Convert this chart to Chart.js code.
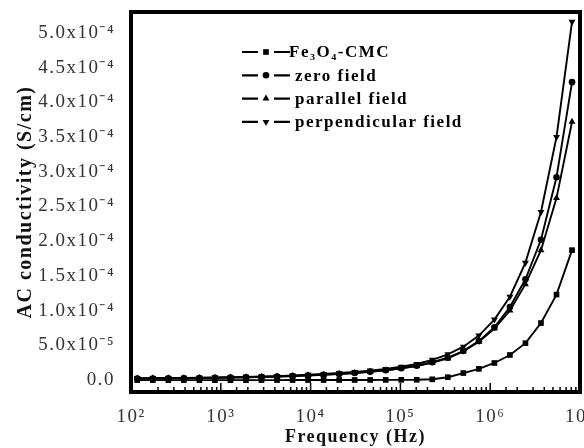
<!DOCTYPE html>
<html>
<head>
<meta charset="utf-8">
<script src="https://cdn.jsdelivr.net/npm/chart.js@4.4.0/dist/chart.umd.min.js"></script>
<style>
    html, body { margin: 0; padding: 0; background: #fff; }
    #wrap { width: 584px; height: 448px; }
</style>
</head>
<body>
<div id="wrap"><canvas id="acChart" width="584" height="448"></canvas></div>
<script>
// frequency points (Hz)
const frequency = [117.5, 175, 260.5, 387.9, 577.6, 860.1, 1281, 1907, 2839, 4228,
    6295, 9374, 13960, 20780, 30950, 46080, 68620, 102200, 152100, 226500,
    337300, 502200, 747800, 1114000, 1658000, 2469000, 3677000, 5475000, 8152000];

// AC conductivity (S/cm)
const fe3o4Cmc = [-2e-7, -2e-7, -2e-7, -2e-7, -2e-7, -2e-7, -2e-7, -2e-7, -1.5e-7, -1.5e-7,
    -1e-7, -1e-7, -0.5e-7, 0, 0, 0.5e-7, 1e-7, 2e-7, 3e-7, 1.0e-6,
    4.0e-6, 1.0e-5, 1.6e-5, 2.45e-5, 3.6e-5, 5.3e-5, 8.2e-5, 1.23e-4, 1.87e-4];
const zeroField = [2.0e-6, 2.2e-6, 2.4e-6, 2.6e-6, 2.8e-6, 3.1e-6, 3.4e-6, 3.8e-6, 4.3e-6, 4.9e-6,
    5.6e-6, 6.5e-6, 7.5e-6, 8.7e-6, 1.0e-5, 1.17e-5, 1.4e-5, 1.7e-5, 2.05e-5, 2.55e-5,
    3.2e-5, 4.2e-5, 5.6e-5, 7.6e-5, 1.05e-4, 1.45e-4, 2.02e-4, 2.92e-4, 4.29e-4];
const parallelField = [2.2e-6, 2.4e-6, 2.6e-6, 2.8e-6, 3.0e-6, 3.3e-6, 3.6e-6, 4.0e-6, 4.5e-6, 5.1e-6,
    5.8e-6, 6.7e-6, 7.7e-6, 8.9e-6, 1.0e-5, 1.2e-5, 1.4e-5, 1.68e-5, 2.0e-5, 2.5e-5,
    3.1e-5, 4.1e-5, 5.5e-5, 7.4e-5, 1.0e-4, 1.38e-4, 1.87e-4, 2.62e-4, 3.72e-4];
const perpendicularField = [2.5e-6, 2.7e-6, 2.9e-6, 3.1e-6, 3.4e-6, 3.7e-6, 4.1e-6, 4.5e-6, 5.0e-6, 5.6e-6,
    6.5e-6, 7.6e-6, 8.8e-6, 1.0e-5, 1.15e-5, 1.35e-5, 1.6e-5, 1.9e-5, 2.3e-5, 2.9e-5,
    3.7e-5, 4.8e-5, 6.4e-5, 8.7e-5, 1.2e-4, 1.69e-4, 2.42e-4, 3.5e-4, 5.16e-4];

const seriesLabels = ['Fe\u2083O\u2084-CMC', 'zero field', 'parallel field', 'perpendicular field'];

// tick labels
const xTickValues = [1e2, 1e3, 1e4, 1e5, 1e6, 1e7];
const xTickLabels = ['10\u00B2', '10\u00B3', '10\u2074', '10\u2075', '10\u2076', '10\u2077'];
const yTickValues = [0, 5e-5, 1e-4, 1.5e-4, 2e-4, 2.5e-4, 3e-4, 3.5e-4, 4e-4, 4.5e-4, 5e-4];
const yTickLabels = ['0.0', '5.0x10\u207B\u2075', '1.0x10\u207B\u2074', '1.5x10\u207B\u2074', '2.0x10\u207B\u2074',
    '2.5x10\u207B\u2074', '3.0x10\u207B\u2074', '3.5x10\u207B\u2074', '4.0x10\u207B\u2074',
    '4.5x10\u207B\u2074', '5.0x10\u207B\u2074'];

const serif = '"Liberation Serif", "Times New Roman", serif';

function toPoints(values) {
    return frequency.map((f, i) => ({ x: f, y: values[i] }));
}

function makeSet(label, values, style, radius, rotation) {
    return {
        label: label,
        data: toPoints(values),
        borderColor: '#000',
        backgroundColor: '#000',
        borderWidth: 1.9,
        pointStyle: style,
        pointRotation: rotation || 0,
        pointRadius: radius,
        pointBorderWidth: 0,
        pointBackgroundColor: '#000',
        tension: 0
    };
}

// wider letter spacing, like the original figure's text
const spacingPlugin = {
    id: 'spacingPlugin',
    beforeDraw(chart) {
        chart.ctx.letterSpacing = '1.5px';
    }
};

// frame, inward ticks on the bottom axis and the legend inside the plot
const framePlugin = {
    id: 'framePlugin',
    afterDatasetsDraw(chart) {
        const ctx = chart.ctx;
        const area = chart.chartArea;
        const xs = chart.scales.x;
        ctx.save();
        ctx.strokeStyle = '#000';

        ctx.lineWidth = 1.5;
        xs.ticks.forEach(t => {
            const px = xs.getPixelForValue(t.value);
            if (px <= area.left + 2 || px >= area.right - 2) return;
            const isMajor = xTickValues.some(v => Math.abs(Math.log10(v) - Math.log10(t.value)) < 1e-6);
            ctx.beginPath();
            ctx.moveTo(px, area.bottom);
            ctx.lineTo(px, area.bottom - (isMajor ? 9 : 5));
            ctx.stroke();
        });

        ctx.lineWidth = 4;
        ctx.strokeRect(area.left, area.top, area.right - area.left, area.bottom - area.top);

        // legend
        const lx = 242, ly = 52, rowH = 23.3;
        ctx.font = 'bold 17px ' + serif;
        ctx.textBaseline = 'middle';
        ctx.fillStyle = '#000';
        chart.data.datasets.forEach((ds, i) => {
            const y = ly + i * rowH;
            ctx.lineWidth = 2.2;
            ctx.beginPath();
            ctx.moveTo(lx, y);
            ctx.lineTo(lx + 16, y);
            ctx.moveTo(lx + 32, y);
            ctx.lineTo(lx + 48, y);
            ctx.stroke();
            Chart.helpers.drawPoint(ctx, {
                pointStyle: ds.pointStyle,
                rotation: ds.pointRotation,
                radius: ds.pointRadius,
                borderWidth: 0
            }, lx + 24, y);
            ctx.fillText(ds.label, lx + (i === 0 ? 47 : 53), y + 1);
        });
        ctx.restore();
    }
};

const ctx = document.getElementById('acChart').getContext('2d');
const chart = new Chart(ctx, {
    type: 'line',
    data: {
        datasets: [
            makeSet(seriesLabels[0], fe3o4Cmc, 'rect', 4),
            makeSet(seriesLabels[1], zeroField, 'circle', 3.3),
            makeSet(seriesLabels[2], parallelField, 'triangle', 4),
            makeSet(seriesLabels[3], perpendicularField, 'triangle', 4, 180)
        ]
    },
    options: {
        responsive: false,
        animation: false,
        layout: { padding: { top: 12, right: 3, left: 14, bottom: 0 } },
        plugins: {
            legend: { display: false },
            tooltip: { enabled: false }
        },
        scales: {
            x: {
                type: 'logarithmic',
                min: 100,
                max: 1e7,
                grid: { display: false },
                border: { display: false },
                ticks: {
                    autoSkip: false,
                    maxRotation: 0,
                    padding: 6,
                    color: '#333',
                    font: { family: serif, size: 19 },
                    callback: function (value) {
                        const i = xTickValues.findIndex(v => Math.abs(Math.log10(v) - Math.log10(value)) < 1e-6);
                        return i >= 0 ? xTickLabels[i] : '';
                    }
                },
                title: {
                    display: true,
                    text: 'Frequency (Hz)',
                    color: '#111',
                    font: { family: serif, size: 18, weight: 'bold' },
                    padding: { top: 0, bottom: 0 }
                },
                afterFit: function (scale) {
                    scale.height = 56;
                    scale.paddingLeft = 0;
                    scale.paddingRight = 0;
                }
            },
            y: {
                min: -1.73e-5,
                max: 5.3e-4,
                grid: { display: false },
                border: { display: false },
                afterBuildTicks: function (scale) {
                    scale.ticks = yTickValues.map(v => ({ value: v }));
                },
                ticks: {
                    padding: 8,
                    color: '#333',
                    font: { family: serif, size: 19 },
                    callback: function (value, index) { return yTickLabels[index]; }
                },
                title: {
                    display: true,
                    text: 'AC conductivity (S/cm)',
                    color: '#111',
                    font: { family: serif, size: 20, weight: 'bold' },
                    padding: { top: 0, bottom: 0 }
                },
                afterFit: function (scale) {
                    scale.width = 117;
                    scale.paddingTop = 0;
                    scale.paddingBottom = 0;
                }
            }
        }
    },
    plugins: [spacingPlugin, framePlugin]
});
</script>
</body>
</html>
